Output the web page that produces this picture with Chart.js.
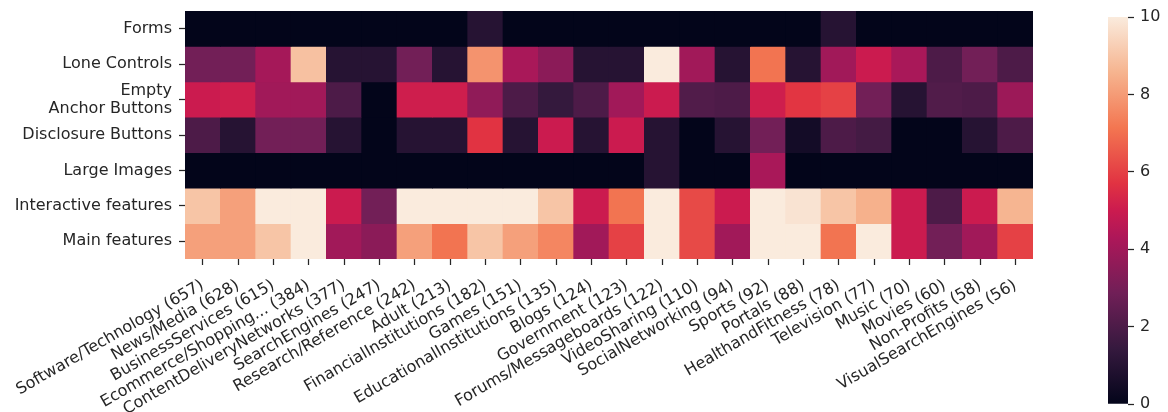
<!DOCTYPE html>
<html>
<head>
<meta charset="utf-8">
<script src="https://cdn.jsdelivr.net/npm/chart.js@4/dist/chart.umd.min.js"></script>
<style>
  body { margin: 0; background: #fff; }
  #wrap { position: relative; width: 1168px; height: 412px; }
  #heatBox { position: absolute; left: 0; top: 0; width: 1060px; height: 412px; }
  #barBox { position: absolute; left: 1100px; top: 0; width: 68px; height: 412px; }
</style>
</head>
<body>
<div id="wrap">
  <div id="heatBox"><canvas id="heat"></canvas></div>
  <div id="barBox"><canvas id="cbar"></canvas></div>
</div>
<script>
const categories = [
  "Software/Technology (657)", "News/Media (628)", "BusinessServices (615)",
  "Ecommerce/Shopping... (384)", "ContentDeliveryNetworks (377)", "SearchEngines (247)",
  "Research/Reference (242)", "Adult (213)", "FinancialInstitutions (182)", "Games (151)",
  "EducationalInstitutions (135)", "Blogs (124)", "Government (123)",
  "Forums/Messageboards (122)", "VideoSharing (110)", "SocialNetworking (94)",
  "Sports (92)", "Portals (88)", "HealthandFitness (78)", "Television (77)",
  "Music (70)", "Movies (60)", "Non-Profits (58)", "VisualSearchEngines (56)"
];
const rowLabels = ["Forms", "Lone Controls", ["Empty", "Anchor Buttons"], "Disclosure Buttons",
  "Large Images", "Interactive features", "Main features"];

const forms = [0, 0, 0, 0, 0, 0, 0, 0, 1, 0, 0, 0, 0, 0, 0, 0, 0, 0, 1, 0, 0, 0, 0, 0];
const loneControls = [2.9, 2.9, 4.1, 8.9, 1, 1, 2.9, 1, 7.8, 4.2, 3.5, 1, 1, 10, 4, 1, 7.1, 1, 4, 5, 4.2, 2, 2.9, 2];
const emptyAnchorButtons = [5, 5.1, 4, 4, 2, 0, 5.1, 5.1, 3.6, 2, 1.4, 2, 4, 5, 2.1, 2, 5.1, 5.75, 6, 2.9, 1, 2.1, 2, 3.9];
const disclosureButtons = [2, 1, 2.9, 2.9, 1, 0, 1, 1, 5.7, 1, 5, 1, 5, 1, 0, 1, 2.9, 0.5, 2, 1.8, 0, 0, 1, 2];
const largeImages = [0, 0, 0, 0, 0, 0, 0, 0, 0, 0, 0, 0, 0, 1, 0, 0, 4.2, 0, 0, 0, 0, 0, 0, 0];
const interactiveFeatures = [9, 8.1, 10, 10, 5, 2.9, 10, 10, 10, 10, 9, 5, 7.1, 10, 6.2, 5, 10, 9.8, 9, 8.5, 5, 2, 5, 8.6];
const mainFeatures = [8.1, 8.1, 9, 10, 4, 3.5, 8.1, 7.1, 9, 8.1, 7.5, 4, 6, 10, 6.2, 4, 10, 10, 7.1, 10, 5, 2.9, 4, 6];

const rows = [forms, loneControls, emptyAnchorButtons, disclosureButtons, largeImages, interactiveFeatures, mainFeatures];
const vmin = 0, vmax = 10;

// rocket colormap, a few stops
const rocket = [
  [0, [3, 5, 26]], [0.143, [53, 25, 62]], [0.286, [112, 31, 87]], [0.429, [173, 23, 89]],
  [0.5, [203, 27, 79]], [0.571, [225, 51, 66]], [0.714, [243, 118, 81]],
  [0.857, [246, 180, 143]], [1, [250, 235, 221]]
];
function rocketColor(v) {
  let t = Math.min(1, Math.max(0, (v - vmin) / (vmax - vmin)));
  for (let i = 1; i < rocket.length; i++) {
    if (t <= rocket[i][0]) {
      const [t0, c0] = rocket[i - 1], [t1, c1] = rocket[i];
      const f = (t - t0) / (t1 - t0);
      const c = c0.map((a, k) => Math.round(a + (c1[k] - a) * f));
      return `rgb(${c[0]},${c[1]},${c[2]})`;
    }
  }
  return "rgb(250,235,221)";
}

Chart.defaults.font.family = "'DejaVu Sans', sans-serif";
Chart.defaults.font.size = 16;
Chart.defaults.color = "#262626";
Chart.defaults.animation = false;

const datasets = rows.map((vals, i) => ({
  label: Array.isArray(rowLabels[i]) ? rowLabels[i].join(" ") : rowLabels[i],
  data: vals.map(() => [i, i + 1]),
  backgroundColor: vals.map(rocketColor),
  borderWidth: 0,
  barPercentage: 1,
  categoryPercentage: 1,
  grouped: false
}));

new Chart(document.getElementById("heat"), {
  type: "bar",
  data: { labels: categories, datasets: datasets },
  options: {
    responsive: true,
    maintainAspectRatio: false,
    layout: { padding: { top: 11, right: 27, left: 0, bottom: 0 } },
    plugins: { legend: { display: false }, tooltip: { enabled: false } },
    scales: {
      x: {
        type: "category",
        grid: { display: true, offset: false, drawOnChartArea: false, drawTicks: true, tickLength: 6, tickColor: "#262626", tickWidth: 1.25 },
        border: { display: false },
        ticks: { autoSkip: false, minRotation: 30, maxRotation: 30, padding: 11 },
        afterFit: axis => { axis.height = 153; axis.paddingLeft = 0; axis.paddingRight = 0; }
      },
      y: {
        type: "linear",
        min: 0, max: 7,
        reverse: true,
        grid: { display: true, drawOnChartArea: false, drawTicks: true, tickLength: 6, tickColor: "#262626", tickWidth: 1.25 },
        border: { display: false },
        afterBuildTicks: axis => { axis.ticks = rowLabels.map((_, i) => ({ value: i + 0.5 })); },
        ticks: {
          padding: 7,
          font: { lineHeight: 1.1 },
          callback: v => rowLabels[Math.round(v - 0.5)]
        },
        afterFit: axis => { axis.width = 185; axis.paddingTop = 0; axis.paddingBottom = 0; }
      }
    }
  }
});

// colorbar
const cbarTicks = [0, 2, 4, 6, 8, 10];
new Chart(document.getElementById("cbar"), {
  type: "bar",
  data: {
    labels: [""],
    datasets: [{
      data: [[vmin, vmax]],
      borderWidth: 0,
      barPercentage: 1,
      categoryPercentage: 1,
      backgroundColor: ctx => {
        const area = ctx.chart.chartArea;
        if (!area) return "#000";
        const g = ctx.chart.ctx.createLinearGradient(0, area.bottom, 0, area.top);
        rocket.forEach(([t, c]) => g.addColorStop(t, `rgb(${c[0]},${c[1]},${c[2]})`));
        return g;
      }
    }]
  },
  options: {
    responsive: true,
    maintainAspectRatio: false,
    layout: { padding: { top: 17, bottom: 8, left: 8, right: 0 } },
    plugins: { legend: { display: false }, tooltip: { enabled: false } },
    scales: {
      x: { display: false },
      y: {
        position: "right",
        min: vmin, max: vmax,
        grid: { display: true, drawOnChartArea: false, drawTicks: true, tickLength: 6, tickColor: "#262626", tickWidth: 1.25 },
        border: { display: false },
        afterBuildTicks: axis => { axis.ticks = cbarTicks.map(v => ({ value: v })); },
        ticks: { padding: 6 },
        afterFit: axis => { axis.width = 40; axis.paddingTop = 0; axis.paddingBottom = 0; }
      }
    }
  }
});
</script>
</body>
</html>
